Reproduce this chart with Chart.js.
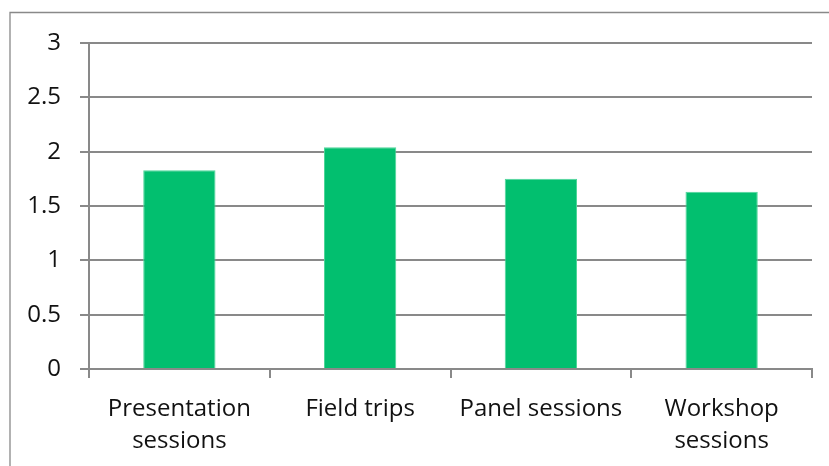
<!DOCTYPE html>
<html>
<head>
<meta charset="utf-8">
<script src="https://cdn.jsdelivr.net/npm/chart.js@4/dist/chart.umd.min.js"></script>
<style>
html,body{margin:0;padding:0;background:#fff;}
#wrap{position:relative;width:829px;height:466px;}
</style>
</head>
<body>
<div id="wrap"><canvas id="c" width="829" height="466"></canvas></div>
<script>
const categories = [["Presentation","sessions"], "Field trips", "Panel sessions", ["Workshop","sessions"]];
const values = [1.83, 2.04, 1.75, 1.63];
const yMin = 0, yMax = 3, yStep = 0.5;

const gridGray = '#898989';
const fontFam = "'Open Sans', 'DejaVu Sans', sans-serif";

const frame = {
  id: 'frame',
  afterDraw(chart) {
    const ctx = chart.ctx;
    ctx.save();
    ctx.strokeStyle = gridGray;
    ctx.lineWidth = 1.3;
    ctx.beginPath();
    ctx.moveTo(10, 480);
    ctx.lineTo(10, 12.5);
    ctx.lineTo(840, 12.5);
    ctx.stroke();
    ctx.restore();
  }
};

new Chart(document.getElementById('c'), {
  type: 'bar',
  data: {
    labels: categories,
    datasets: [{
      data: values,
      backgroundColor: '#02bf6f',
      borderColor: '#4fd69a',
      borderWidth: 1,
      borderSkipped: 'bottom',
      barPercentage: 0.4,
      categoryPercentage: 1.0
    }]
  },
  options: {
    responsive: false,
    animation: false,
    layout: { padding: { top: 43, right: 17, left: 0, bottom: 0 } },
    plugins: { legend: { display: false }, tooltip: { enabled: false } },
    scales: {
      x: {
        offset: true,
        grid: { display: true, drawOnChartArea: false, drawTicks: true, tickLength: 9, color: gridGray, lineWidth: 2, offset: true },
        border: { display: true, color: gridGray, width: 2 },
        ticks: { color: '#111', font: { family: fontFam, size: 24, lineHeight: 1.3 }, padding: 16, maxRotation: 0, autoSkip: false },
        afterFit(scale) { scale.height = 97; }
      },
      y: {
        min: yMin, max: yMax,
        grid: { color: gridGray, lineWidth: 2, tickLength: 9, drawTicks: true },
        border: { display: true, color: gridGray, width: 2 },
        ticks: { stepSize: yStep, color: '#111', font: { family: fontFam, size: 24 }, padding: 19,
          callback: (v) => String(Number(Number(v).toFixed(2))) },
        afterFit(scale) { scale.width = 89; }
      }
    }
  },
  plugins: [frame]
});
</script>
</body>
</html>
